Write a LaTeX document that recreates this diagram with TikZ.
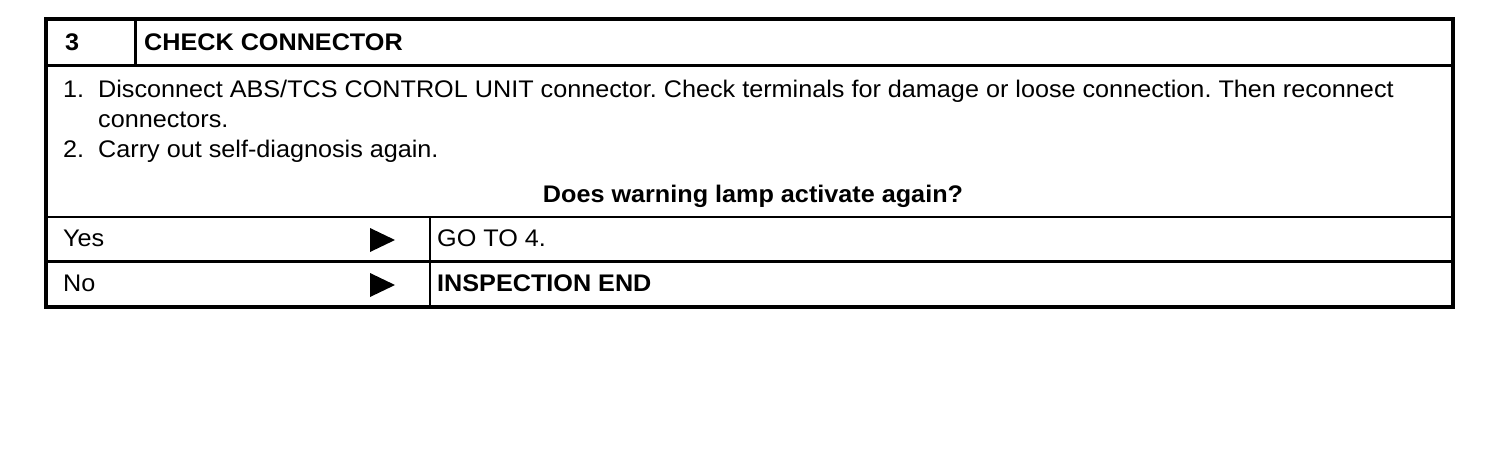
\documentclass[tikz,border=0pt]{standalone}
\usepackage{fontspec}
\setmainfont{Liberation Sans}[FakeStretch=1.05]
\usetikzlibrary{shapes}
\newcommand{\goarrow}[1]
{   \fill (#1) ++(0,-12) -- ++(25,12) -- ++(-25,12) -- cycle;
}
\tikzset{cell/.style={anchor=base west, inner sep=0pt, font=\fontsize{24}{30}\selectfont},
  head/.style={cell, font=\fontsize{24}{30}\selectfont\bfseries}}
\frenchspacing

\begin{document}
\begin{tikzpicture}[x=1pt, y=-1pt]
          \useasboundingbox (0,0) rectangle (1504,450);
          \draw[line width=4pt] (46,19) rectangle (1453,307);
          \draw[line width=3pt] (46,65) -- (1453,65);
          \draw[line width=2.5pt] (135.5,19) -- (135.5,65);
          \draw[line width=1.5pt] (46,217) -- (1453,217);
          \draw[line width=3pt] (46,261.5) -- (1453,261.5);
          \draw[line width=2pt] (430,217) -- (430,307);
          \node[head] (num) at (65,50) {3};
          \node[head] (title) at (144,50) {CHECK CONNECTOR};
          \node[cell] (n1) at (63,97) {1.};
          \node[cell] (s1) at (98,97) {Disconnect ABS/TCS CONTROL UNIT connector. Check terminals for damage or loose connection. Then reconnect};
          \node[cell] (s1b) at (98,127) {connectors.};
          \node[cell] (n2) at (63,157) {2.};
          \node[cell] (s2) at (98,157) {Carry out self-diagnosis again.};
          \node[head, anchor=base] (ask) at (753,202) {Does warning lamp activate again?};
          \node[cell] (yes) at (63,246) {Yes};
          \goarrow{370,240}
          \node[cell] (goto) at (437,246) {GO TO 4.};
          \node[cell] (no) at (63,291) {No};
          \goarrow{370,285}
          \node[head] (done) at (437,291) {INSPECTION END};
        \end{tikzpicture}
\end{document}
